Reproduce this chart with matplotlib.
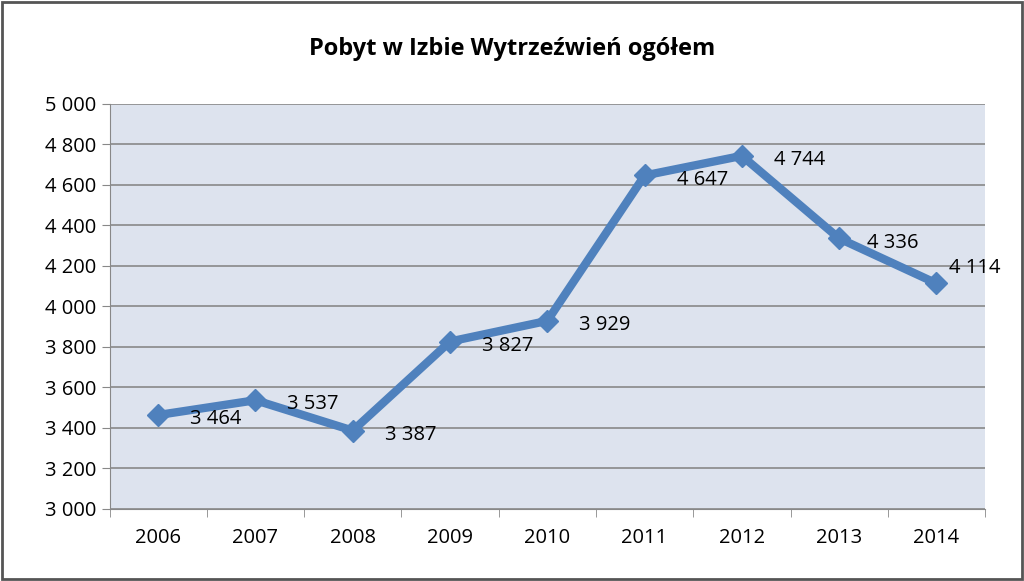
import matplotlib.pyplot as plt
import numpy as np

years = ['2006', '2007', '2008', '2009', '2010', '2011', '2012', '2013', '2014']
values = [3464, 3537, 3387, 3827, 3929, 4647, 4744, 4336, 4114]
labels = ['3 464', '3 537', '3 387', '3 827', '3 929', '4 647', '4 744', '4 336', '4 114']
label_dx = [23, 23, 23, 23, 23, 23, 23, 20, 9]
label_dy = [-3, -3, -3, -3, -3, -3, -3, -3, 11]

plt.rcParams['font.family'] = 'Open Sans'

fig = plt.figure(figsize=(10.24, 5.81), dpi=100)
fig.patches.append(plt.Rectangle((0.002, 0.003), 0.996, 0.994, transform=fig.transFigure,
                                 fill=False, edgecolor='#555555', linewidth=2))
ax = fig.add_axes([0.107, 0.124, 0.855, 0.697])
ax.set_facecolor('#dde3ee')

x = np.arange(len(years))
ax.plot(x, values, color='#4f81bd', linewidth=6, marker='D', markersize=11, zorder=3)
for xi, v, lab, dx, dy in zip(x, values, labels, label_dx, label_dy):
    ax.annotate(lab, (xi, v), xytext=(dx, dy), textcoords='offset points',
                ha='left', va='center', fontsize=14.5, zorder=4)

ax.set_xlim(-0.5, len(years) - 0.5)
ax.set_ylim(3000, 5000)
yt = np.arange(3000, 5001, 200)
ax.set_yticks(yt)
ax.set_yticklabels([f'{v:,}'.replace(',', ' ') for v in yt], fontsize=14.5)
ax.set_xticks(x)
ax.set_xticklabels(years, fontsize=14.5)
ax.set_xticks(np.arange(-0.5, len(years)), minor=True)
ax.tick_params(axis='x', which='major', length=0, pad=14)
ax.tick_params(axis='x', which='minor', length=6, color='#888888')
ax.tick_params(axis='y', length=6, color='#888888')
ax.grid(axis='y', color='#888888', linewidth=1.2)
ax.set_axisbelow(True)
for s in ['top', 'right']:
    ax.spines[s].set_visible(False)
for s in ['left', 'bottom']:
    ax.spines[s].set_color('#888888')

fig.text(0.50, 0.915, 'Pobyt w Izbie Wytrzeźwień ogółem', ha='center', va='center',
         fontsize=17, fontweight='bold')

fig.savefig('out.png', dpi=100)
